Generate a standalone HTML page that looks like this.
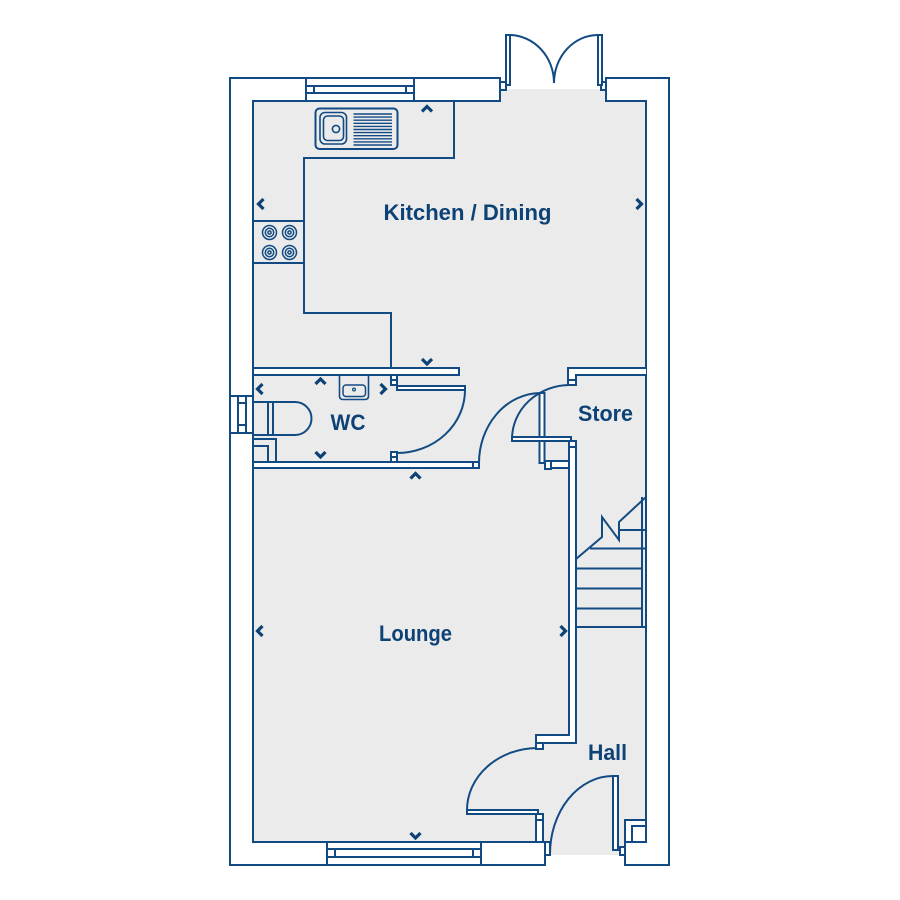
<!DOCTYPE html>
<html>
<head>
<meta charset="utf-8">
<style>
html,body{margin:0;padding:0;background:#ffffff;}
svg{display:block;}
text{font-family:"Liberation Sans",sans-serif;font-weight:bold;fill:#0c4275;}
</style>
</head>
<body>
<svg width="900" height="900" viewBox="0 0 900 900" xmlns="http://www.w3.org/2000/svg">
<rect x="0" y="0" width="900" height="900" fill="#ffffff"/>
<g stroke="#124b83" stroke-width="2" fill="none" stroke-linejoin="miter">

<!-- floor -->
<rect x="253" y="101" width="393" height="741" fill="#ebebeb" stroke="none"/>
<rect x="501" y="89" width="104" height="13" fill="#ebebeb" stroke="none"/>
<rect x="546" y="841" width="78" height="14" fill="#ebebeb" stroke="none"/>

<!-- outer walls -->
<path d="M500,78 H230 V865 H545 V842 H253 V101 H500 Z" fill="#ffffff"/>
<path d="M606,78 H669 V865 H625 V842 H646 V101 H606 Z" fill="#ffffff"/>

<!-- top window -->
<rect x="306" y="78" width="108" height="23" fill="#ffffff"/>
<line x1="306" y1="86" x2="414" y2="86"/>
<line x1="306" y1="93" x2="414" y2="93"/>
<line x1="314" y1="86" x2="314" y2="93"/>
<line x1="406" y1="86" x2="406" y2="93"/>

<!-- bottom window -->
<rect x="327" y="842" width="154" height="23" fill="#ffffff"/>
<line x1="327" y1="849" x2="481" y2="849"/>
<line x1="327" y1="857" x2="481" y2="857"/>
<line x1="335" y1="849" x2="335" y2="857"/>
<line x1="473" y1="849" x2="473" y2="857"/>

<!-- WC window -->
<rect x="230" y="396" width="23" height="37" fill="#ffffff"/>
<line x1="238" y1="396" x2="238" y2="433"/>
<line x1="246" y1="396" x2="246" y2="433"/>
<line x1="238" y1="403" x2="246" y2="403"/>
<line x1="238" y1="425" x2="246" y2="425"/>

<!-- french doors -->
<rect x="500" y="82" width="6" height="8" fill="#ffffff"/>
<rect x="601" y="82" width="5" height="8" fill="#ffffff"/>
<rect x="506" y="35" width="4" height="50" fill="#ffffff"/>
<rect x="598" y="35" width="4" height="50" fill="#ffffff"/>
<path d="M510,35 A45,48 0 0 1 554,83"/>
<path d="M598,35 A44,48 0 0 0 554,83"/>

<!-- kitchen counter -->
<path d="M454,101 V158 H304 V313 H391 V368"/>
<!-- hob -->
<rect x="253" y="221" width="51" height="42"/>
<g stroke-width="1.5">
<circle cx="269.5" cy="232.5" r="7"/><circle cx="269.5" cy="232.5" r="4.2"/><circle cx="269.5" cy="232.5" r="1.6"/>
<circle cx="289.5" cy="232.5" r="7"/><circle cx="289.5" cy="232.5" r="4.2"/><circle cx="289.5" cy="232.5" r="1.6"/>
<circle cx="269.5" cy="252.5" r="7"/><circle cx="269.5" cy="252.5" r="4.2"/><circle cx="269.5" cy="252.5" r="1.6"/>
<circle cx="289.5" cy="252.5" r="7"/><circle cx="289.5" cy="252.5" r="4.2"/><circle cx="289.5" cy="252.5" r="1.6"/>
</g>
<!-- sink -->
<rect x="315.5" y="108.5" width="82" height="40.5" rx="4"/>
<rect x="320" y="112.5" width="26.5" height="31.5" rx="5" stroke-width="1.6"/>
<rect x="323.5" y="116" width="20" height="24.5" rx="4" stroke-width="1.6"/>
<circle cx="336" cy="129" r="3.6" stroke-width="1.6"/>
<g stroke-width="1.4">
<line x1="353.5" y1="114" x2="392" y2="114"/>
<line x1="353.5" y1="117.1" x2="392" y2="117.1"/>
<line x1="353.5" y1="120.2" x2="392" y2="120.2"/>
<line x1="353.5" y1="123.3" x2="392" y2="123.3"/>
<line x1="353.5" y1="126.4" x2="392" y2="126.4"/>
<line x1="353.5" y1="129.5" x2="392" y2="129.5"/>
<line x1="353.5" y1="132.6" x2="392" y2="132.6"/>
<line x1="353.5" y1="135.7" x2="392" y2="135.7"/>
<line x1="353.5" y1="138.8" x2="392" y2="138.8"/>
<line x1="353.5" y1="141.9" x2="392" y2="141.9"/>
<line x1="353.5" y1="145" x2="392" y2="145"/>
</g>

<!-- WC walls -->
<rect x="253" y="368" width="206" height="7" fill="#ffffff"/>
<rect x="391" y="375" width="6" height="10" fill="#ffffff"/>
<line x1="391" y1="380" x2="397" y2="380"/>
<rect x="253" y="462" width="226" height="6" fill="#ffffff"/>
<line x1="473" y1="462" x2="473" y2="468"/>
<rect x="391" y="452" width="6" height="10" fill="#ffffff"/>
<line x1="391" y1="457" x2="397" y2="457"/>
<!-- WC door -->
<rect x="397" y="386" width="68" height="4" fill="#ffffff"/>
<path d="M465,390 A68,63 0 0 1 397,453"/>

<!-- toilet -->
<path d="M253,402 H295 A16.5,16.5 0 0 1 295,435 H253" />
<line x1="268" y1="402" x2="268" y2="435"/>
<line x1="273" y1="402" x2="273" y2="435"/>
<rect x="253" y="439" width="23" height="23"/>
<path d="M253,446 H268 V462"/>
<!-- WC basin -->
<path d="M339.5,375 V396 Q339.5,399.5 343,399.5 H365 Q368.5,399.5 368.5,396 V375" stroke-width="1.6"/>
<rect x="343" y="385" width="22.5" height="11.5" rx="3" stroke-width="1.5"/>
<circle cx="354" cy="389.5" r="1.4" stroke-width="1.2"/>

<!-- lounge top door -->
<rect x="539.5" y="393" width="5" height="70" fill="#ffffff"/>
<path d="M539.5,393 A62,70 0 0 0 479,463"/>
<rect x="545" y="461" width="6" height="8" fill="#ffffff"/>
<rect x="551" y="461" width="18" height="7" fill="#ffffff"/>

<!-- store top wall -->
<path d="M646,368 H568 V385 H576 V375 H646" fill="#ffffff"/>
<line x1="568" y1="380" x2="576" y2="380"/>
<!-- store door -->
<rect x="569" y="441" width="7" height="6" fill="#ffffff"/>
<rect x="512" y="437" width="59" height="4" fill="#ffffff"/>
<path d="M512,439 A58,54 0 0 1 570,385"/>

<!-- hall wall -->
<path d="M569,447 V735 H536 V749 H543 V743 H576 V447 Z" fill="#ffffff"/>
<line x1="536" y1="743" x2="543" y2="743"/>

<!-- stairs -->
<line x1="642" y1="497" x2="642" y2="627"/>
<line x1="619" y1="530" x2="646" y2="530"/>
<line x1="590" y1="548.5" x2="646" y2="548.5"/>
<line x1="576" y1="568.5" x2="642" y2="568.5"/>
<line x1="576" y1="588.5" x2="642" y2="588.5"/>
<line x1="576" y1="608.5" x2="642" y2="608.5"/>
<line x1="576" y1="627" x2="646" y2="627"/>
<path d="M576,559 L602,537 V517 L619,540 V522 L646,497"/>

<!-- lounge bottom door -->
<rect x="467" y="810" width="71" height="4" fill="#ffffff"/>
<path d="M467,810 A71,62 0 0 1 537,748"/>
<rect x="536" y="814" width="7" height="28" fill="#ffffff"/>
<line x1="536" y1="820" x2="543" y2="820"/>

<!-- front door -->
<rect x="545" y="842" width="5" height="13" fill="#ffffff"/>
<rect x="620" y="847" width="5" height="8" fill="#ffffff"/>
<rect x="613" y="776" width="5" height="74" fill="#ffffff"/>
<path d="M613,776 A63,78 0 0 0 550,854"/>
<!-- meter box -->
<rect x="625" y="820" width="21" height="22" fill="#ffffff"/>
<path d="M632,842 V826 H646"/>
</g>

<!-- chevrons -->
<g stroke="#0c4275" stroke-width="3.2" fill="none" stroke-linecap="butt" stroke-linejoin="miter">
<polyline points="422,111.5 427,106.5 432,111.5"/>
<polyline points="263.5,199 258.5,204 263.5,209"/>
<polyline points="636.5,199 641.5,204 636.5,209"/>
<polyline points="422,359 427,364 432,359"/>
<polyline points="315.5,384 320.5,379 325.5,384"/>
<polyline points="262.5,384 257.5,389 262.5,394"/>
<polyline points="380.5,384 385.5,389 380.5,394"/>
<polyline points="315.5,452 320.5,457 325.5,452"/>
<polyline points="410.5,478.5 415.5,473.5 420.5,478.5"/>
<polyline points="262.5,626 257.5,631 262.5,636"/>
<polyline points="560.5,626 565.5,631 560.5,636"/>
<polyline points="410.5,833 415.5,838 420.5,833"/>
</g>

<!-- labels -->
<text x="383.5" y="220" font-size="22.5" textLength="168" lengthAdjust="spacingAndGlyphs">Kitchen / Dining</text>
<text x="330.5" y="430" font-size="22.5" textLength="35" lengthAdjust="spacingAndGlyphs">WC</text>
<text x="578" y="421" font-size="22.5" textLength="55" lengthAdjust="spacingAndGlyphs">Store</text>
<text x="379" y="641" font-size="22.5" textLength="73" lengthAdjust="spacingAndGlyphs">Lounge</text>
<text x="588" y="760" font-size="22.5" textLength="39" lengthAdjust="spacingAndGlyphs">Hall</text>
</svg>
</body>
</html>
